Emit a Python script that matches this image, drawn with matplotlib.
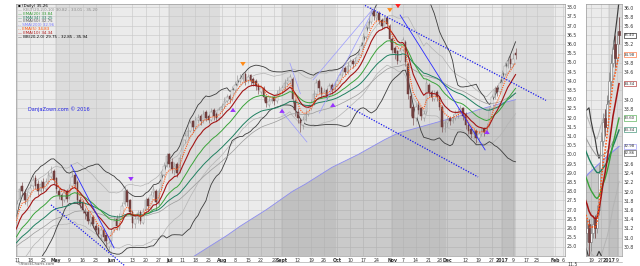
import numpy as np
import pandas as pd
import matplotlib
matplotlib.use("Agg")
import matplotlib.pyplot as plt

# ---------------- data ----------------
start_date = "2016-04-11"
holidays = ["2016-03-25", "2016-05-30", "2016-07-04", "2016-09-05", "2016-11-24",
            "2016-12-26", "2017-01-02", "2017-01-16", "2017-02-20"]

pre_closes = [24.4, 24.6, 24.3, 24.5, 24.8, 24.6, 24.9, 25.1, 24.8, 24.7, 25.0, 24.9,
              25.2, 25.0, 25.3, 25.1, 25.4, 25.6, 25.5, 25.9, 26.2, 26.0, 26.6]

opens = [27.0, 27.6, 28.3, 27.9, 27.4, 27.9, 28.3, 28.7, 28.4, 28.0,
         28.5, 28.1, 28.5, 28.8, 29.1, 28.7, 28.0, 27.8, 27.5, 28.0,
         27.7, 28.3, 28.9, 28.5, 27.5, 27.4, 26.9, 26.9, 26.3, 26.6,
         26.1, 26.0, 25.6, 25.9, 25.6, 25.0, 25.3, 25.9, 26.5, 26.0,
         26.7, 27.3, 28.0, 27.5, 26.9, 26.2, 26.5, 26.9, 26.3, 27.0,
         27.6, 27.1, 27.9, 28.0, 27.3, 28.1, 28.9, 29.4, 30.0, 29.6,
         29.1, 29.5, 29.1, 29.9, 30.8, 31.0, 31.3, 31.8, 31.5, 31.9,
         32.1, 31.8, 32.3, 32.1, 31.9, 32.4, 32.2, 32.0, 32.4, 32.6,
         32.9, 33.2, 33.0, 33.5, 33.8, 34.0, 34.1, 34.4, 34.0, 34.3,
         34.1, 34.0, 33.8, 33.4, 33.6, 33.1, 32.7, 32.9, 33.1, 32.9,
         33.3, 33.5, 33.6, 33.9, 34.0, 34.1, 32.9, 32.3, 31.9, 31.6,
         31.9, 32.2, 32.5, 32.8, 33.3, 34.0, 33.6, 33.2, 33.5, 33.2,
         33.8, 33.5, 33.8, 34.0, 34.3, 34.7, 34.5, 34.8, 35.1, 34.9,
         35.1, 35.4, 35.9, 36.4, 36.9, 37.2, 37.8, 37.4, 37.7, 37.3,
         36.9, 37.4, 37.0, 36.3, 35.8, 35.6, 35.1, 35.7, 36.1, 34.9,
         33.2, 32.6, 32.0, 32.7, 32.5, 32.0, 32.3, 33.8, 33.4, 33.0,
         33.4, 33.1, 32.6, 31.4, 31.7, 32.0, 31.8, 32.0, 32.2, 32.3,
         32.5, 32.2, 31.6, 31.4, 31.1, 31.3, 30.9, 31.1, 31.4, 31.2,
         31.6, 32.5, 33.1, 33.6, 33.4, 34.0, 34.4, 34.8, 35.2, 34.9,
         35.5]
highs = [27.5, 28.3, 28.5, 28.1, 28.0, 28.4, 28.9, 28.9, 28.6, 28.6,
         28.7, 28.7, 29.1, 29.4, 29.2, 28.8, 28.2, 27.9, 28.1, 28.1,
         28.4, 29.2, 29.0, 28.6, 27.7, 27.5, 27.1, 27.0, 26.8, 26.7,
         26.3, 26.1, 26.1, 26.0, 25.7, 25.4, 26.0, 26.6, 26.7, 26.8,
         27.4, 28.3, 28.1, 27.6, 27.0, 26.7, 27.0, 27.0, 27.1, 27.7,
         27.7, 28.0, 28.4, 28.1, 28.2, 29.1, 29.6, 30.1, 30.1, 29.8,
         29.6, 29.6, 30.0, 31.0, 31.2, 31.5, 31.9, 31.9, 32.1, 32.2,
         32.2, 32.4, 32.4, 32.2, 32.5, 32.5, 32.3, 32.6, 32.8, 33.1,
         33.3, 33.3, 33.7, 34.0, 34.3, 34.4, 34.5, 34.5, 34.4, 34.4,
         34.2, 34.1, 33.9, 33.8, 33.7, 33.2, 33.1, 33.2, 33.2, 33.5,
         33.7, 33.8, 34.1, 34.2, 34.4, 34.2, 33.0, 32.5, 32.0, 32.1,
         32.4, 32.7, 33.0, 33.5, 34.1, 34.1, 33.7, 33.6, 33.6, 33.9,
         33.9, 34.0, 34.2, 34.5, 34.8, 34.8, 35.0, 35.2, 35.2, 35.3,
         35.6, 36.1, 36.6, 37.1, 37.5, 38.0, 37.9, 37.8, 37.8, 37.4,
         37.5, 37.5, 37.1, 36.4, 35.9, 35.7, 35.8, 36.4, 36.2, 35.0,
         33.3, 32.7, 32.8, 32.9, 32.6, 32.4, 34.1, 33.9, 33.5, 33.5,
         33.5, 33.2, 32.7, 31.9, 32.1, 32.1, 32.2, 32.4, 32.5, 32.7,
         32.6, 32.3, 31.7, 31.5, 31.4, 31.4, 31.3, 31.5, 31.5, 31.7,
         32.6, 33.3, 33.7, 33.8, 34.1, 34.6, 35.0, 35.3, 35.4, 35.5,
         35.8]
lows = [26.8, 27.5, 27.8, 27.3, 27.2, 27.7, 28.1, 28.1, 27.8, 27.9,
        28.0, 28.0, 28.4, 28.6, 28.4, 27.9, 27.6, 27.2, 27.4, 27.4,
        27.6, 28.2, 28.2, 27.3, 27.1, 26.8, 26.5, 26.2, 26.1, 26.0,
        25.7, 25.5, 25.4, 25.3, 25.0, 24.8, 25.1, 25.8, 25.9, 25.9,
        26.6, 27.2, 27.2, 26.7, 26.0, 26.0, 26.3, 26.2, 26.2, 26.9,
        27.0, 27.0, 27.7, 27.0, 27.2, 28.0, 28.8, 29.3, 29.3, 29.0,
        28.9, 28.8, 29.0, 29.8, 30.6, 30.9, 31.2, 31.3, 31.4, 31.7,
        31.6, 31.7, 31.8, 31.7, 31.8, 31.9, 31.8, 31.9, 32.2, 32.5,
        32.8, 32.8, 32.9, 33.4, 33.7, 33.9, 34.0, 33.8, 33.9, 33.8,
        33.7, 33.5, 33.3, 33.3, 32.9, 32.6, 32.6, 32.8, 32.7, 32.8,
        33.2, 33.3, 33.5, 33.8, 33.9, 32.8, 32.1, 31.7, 31.2, 31.4,
        31.8, 32.1, 32.4, 32.7, 33.2, 33.4, 33.1, 33.1, 33.0, 33.1,
        33.3, 33.4, 33.7, 33.9, 34.2, 34.3, 34.4, 34.7, 34.7, 34.8,
        35.0, 35.3, 35.8, 36.3, 36.8, 37.1, 37.3, 37.2, 37.1, 36.8,
        36.8, 36.9, 36.1, 35.5, 35.2, 34.9, 35.0, 35.6, 34.8, 33.0,
        32.1, 31.6, 31.8, 32.2, 31.9, 31.8, 32.2, 33.2, 32.9, 32.9,
        32.9, 32.4, 31.2, 31.2, 31.5, 31.6, 31.7, 31.9, 32.0, 32.2,
        31.9, 31.4, 31.1, 30.9, 30.9, 30.6, 30.7, 31.0, 31.0, 31.1,
        31.5, 32.4, 33.0, 33.2, 33.3, 33.9, 34.3, 34.7, 34.7, 34.8,
        35.2]
closes = [27.3, 28.1, 28.0, 27.5, 27.8, 28.2, 28.6, 28.3, 28.0, 28.4,
          28.2, 28.5, 28.9, 29.0, 28.6, 28.1, 27.8, 27.5, 27.9, 27.6,
          28.2, 28.8, 28.4, 27.5, 27.3, 27.0, 26.8, 26.4, 26.6, 26.2,
          25.9, 25.7, 25.9, 25.5, 25.3, 25.2, 25.8, 26.4, 26.1, 26.6,
          27.2, 28.0, 27.4, 26.9, 26.3, 26.5, 26.8, 26.4, 26.9, 27.5,
          27.2, 27.8, 28.1, 27.4, 28.0, 28.9, 29.4, 29.9, 29.5, 29.2,
          29.4, 29.0, 29.8, 30.8, 31.0, 31.3, 31.7, 31.5, 31.9, 32.0,
          31.8, 32.2, 32.0, 31.9, 32.3, 32.1, 32.0, 32.4, 32.6, 32.9,
          33.1, 33.0, 33.5, 33.8, 34.0, 34.1, 34.3, 34.0, 34.2, 34.0,
          33.9, 33.7, 33.5, 33.6, 33.1, 32.8, 32.9, 33.0, 32.9, 33.3,
          33.5, 33.6, 33.9, 34.0, 34.2, 33.0, 32.4, 32.0, 31.7, 31.9,
          32.2, 32.5, 32.8, 33.3, 33.9, 33.6, 33.3, 33.4, 33.2, 33.7,
          33.5, 33.8, 34.0, 34.3, 34.6, 34.5, 34.8, 35.0, 34.9, 35.1,
          35.4, 35.9, 36.4, 36.9, 37.2, 37.7, 37.5, 37.6, 37.3, 37.0,
          37.3, 37.1, 36.3, 35.7, 35.5, 35.1, 35.6, 36.2, 35.0, 33.3,
          32.5, 32.0, 32.6, 32.4, 32.1, 32.2, 33.9, 33.4, 33.1, 33.3,
          33.1, 32.6, 31.5, 31.7, 31.9, 31.8, 32.0, 32.2, 32.3, 32.5,
          32.1, 31.6, 31.3, 31.1, 31.2, 30.9, 31.1, 31.3, 31.2, 31.5,
          32.4, 33.1, 33.5, 33.4, 33.9, 34.4, 34.8, 35.1, 34.9, 35.2,
          35.4]

area_idx = [60, 65, 70, 75, 80, 85, 90, 95, 100, 105, 110, 115, 120, 125, 130,
            135, 140, 145, 150, 155, 160, 165, 170, 175, 180, 185, 190]
area_vals = [23.8, 24.25, 24.7, 25.15, 25.6, 26.1, 26.55, 27.0, 27.5, 28.0, 28.4,
             28.85, 29.3, 29.65, 30.0, 30.4, 30.8, 31.15, 31.35, 31.55, 31.75,
             31.95, 32.15, 32.4, 32.6, 32.8, 32.98]

# hand-drawn trendlines: (x0 idx, y0, x1 idx, y1)
trend_solid = [(20.6, 29.43, 37.0, 24.92), (146.0, 37.58, 178.4, 30.25)]
trend_dotted = [(12.97, 27.26, 41.2, 23.94), (132.6, 38.10, 201.6, 32.94),
                (125.8, 32.64, 175.7, 28.78)]
trend_light = [(112.8, 34.05, 135.3, 37.85), (115.2, 32.25, 136.2, 37.96),
               (101.0, 32.32, 110.5, 30.68), (104.0, 34.97, 108.0, 33.30)]

# signal arrows: (idx, tail price, tip price, colour)
arrows = [(43.4, 28.78, 28.40, "#9933ff"), (82.3, 32.31, 32.69, "#9933ff"),
          (86.1, 35.03, 34.65, "#ff8c1a"), (101.0, 32.26, 32.64, "#9933ff"),
          (120.4, 32.58, 32.96, "#9933ff"), (142.1, 37.96, 37.58, "#ff8c1a"),
          (145.2, 38.18, 37.80, "#ff2020"), (179.1, 31.11, 31.49, "#9933ff")]

tick_dates = ["2016-04-11", "2016-04-18", "2016-04-25", "2016-05-02", "2016-05-09",
              "2016-05-16", "2016-05-23", "2016-06-01", "2016-06-13", "2016-06-20",
              "2016-06-27", "2016-07-01", "2016-07-11", "2016-07-18", "2016-07-25",
              "2016-08-01", "2016-08-08", "2016-08-15", "2016-08-22", "2016-08-29",
              "2016-09-01", "2016-09-12", "2016-09-19", "2016-09-26", "2016-10-03",
              "2016-10-10", "2016-10-17", "2016-10-24", "2016-11-01", "2016-11-07",
              "2016-11-14", "2016-11-21", "2016-11-28", "2016-12-01", "2016-12-12",
              "2016-12-19", "2016-12-27", "2017-01-03", "2017-01-09", "2017-01-17",
              "2017-01-23", "2017-02-01", "2017-02-06"]
tick_labels = ["11", "18", "25", "May", "9", "16", "23", "Jun", "13", "20", "27", "Jul",
               "11", "18", "25", "Aug", "8", "15", "22", "29", "Sept", "12", "19", "26",
               "Oct", "10", "17", "24", "Nov", "7", "14", "21", "28", "Dec", "12", "19",
               "27", "2017", "9", "17", "23", "Feb", "6"]
month_starts = ["2016-05-02", "2016-06-01", "2016-07-01", "2016-08-01", "2016-09-01",
                "2016-10-03", "2016-11-01", "2016-12-01", "2017-01-03", "2017-02-01"]
inset_tick_dates = ["2016-12-19", "2016-12-27", "2017-01-03", "2017-01-09"]
inset_tick_labels = ["19", "27", "2017", "9"]

legend_lines = [("\u25aa (Daily) 35.26", "#000000"),
                ("\u2014 KELT(20,2.0,10) 30.82 - 33.01 - 35.20", "#8a8a8a"),
                ("\u2014 EMA(20) 33.84", "#2e9b2e"),
                ("\u2014 EMA(34) 33.25", "#1e7d5a"),
                ("\u2014 EMA(50) 32.75", "#555555"),
                ("-- SMA(200) 32.96", "#7b7bff"),
                ("-- EMA(5) 34.83", "#ff4d00"),
                ("\u2014 EMA(10) 34.34", "#b01515"),
                ("\u2014 BB(20,2.0) 29.75 - 32.85 - 35.94", "#000000")]

# ---------------- calendar ----------------
cbd = pd.offsets.CustomBusinessDay(holidays=holidays)
cal = pd.date_range("2016-02-01", "2017-03-31", freq=cbd)
pos0 = cal.get_loc(pd.Timestamp(start_date))


def xpos(d):
    return cal.get_loc(pd.Timestamp(d)) - pos0


# ---------------- indicators ----------------
n_pre = len(pre_closes)
allc = pd.Series(pre_closes + closes, dtype=float)
x_all = np.arange(-n_pre, len(closes))


def ema(n):
    return allc.ewm(span=n, adjust=False).mean().values


ema5, ema10, ema20, ema34, ema50 = ema(5), ema(10), ema(20), ema(34), ema(50)
bb_mid = allc.rolling(20).mean().values
bb_sd = allc.rolling(20).std(ddof=0).values
bb_up, bb_lo = bb_mid + 2 * bb_sd, bb_mid - 2 * bb_sd

h = np.array(highs); l = np.array(lows); c = np.array(closes); o = np.array(opens)
prev_c = np.concatenate([[pre_closes[-1]], c[:-1]])
tr = np.maximum.reduce([h - l, np.abs(h - prev_c), np.abs(l - prev_c)])
atr = pd.Series(tr).ewm(alpha=1 / 10, adjust=False).mean().values
x_main = np.arange(len(closes))
kc_mid = ema20[n_pre:]
kc_up, kc_lo = kc_mid + 2 * atr, kc_mid - 2 * atr

# ---------------- figure ----------------
W, H = 640, 266
fig = plt.figure(figsize=(W / 100, H / 100), dpi=100)
fig.patch.set_facecolor("white")


def rect(x0, y0, x1, y1):
    return [x0 / W, 1 - y1 / H, (x1 - x0) / W, (y1 - y0) / H]


LIGHT, DARK = "#ebebeb", "#dcdcdc"
FS = 3.3


def draw(ax, cw, lw_scale=1.0):
    bounds = [-50] + [xpos(d) - 0.5 for d in month_starts] + [400]
    for k in range(len(bounds) - 1):
        ax.axvspan(bounds[k], bounds[k + 1], color=DARK if k % 2 else LIGHT,
                   zorder=0, lw=0)
    ax.grid(True, color="#c6c6c6", lw=0.4)
    ax.set_axisbelow(True)
    ax.fill_between(area_idx, area_vals, 0, color="#8e8e8e", alpha=0.35, lw=0, zorder=1)
    ax.plot(area_idx, area_vals, color="#8c8cf0", lw=0.6 * lw_scale, zorder=1.5)
    ax.plot(x_main, kc_up, color="#b4b4b4", lw=0.5 * lw_scale, zorder=1.6)
    ax.plot(x_main, kc_lo, color="#b4b4b4", lw=0.5 * lw_scale, zorder=1.6)
    ax.plot(x_all, bb_up, color="#3c3c3c", lw=0.6 * lw_scale, zorder=1.7)
    ax.plot(x_all, bb_lo, color="#3c3c3c", lw=0.6 * lw_scale, zorder=1.7)
    up = c >= o
    body_lo = np.minimum(o, c)
    body_h = np.maximum(np.abs(c - o), 0.04)
    ax.vlines(x_main[up], l[up], h[up], color="#8c8c8c", lw=0.4 * lw_scale, zorder=2)
    ax.vlines(x_main[~up], l[~up], h[~up], color="#6e3c3c", lw=0.4 * lw_scale, zorder=2)
    ax.bar(x_main[up], body_h[up], bottom=body_lo[up], width=cw, color="#f5f5f5",
           edgecolor="#8c8c8c", lw=0.35 * lw_scale, zorder=2.1)
    ax.bar(x_main[~up], body_h[~up], bottom=body_lo[~up], width=cw, color="#73403f",
           edgecolor="#6e3c3c", lw=0.35 * lw_scale, zorder=2.1)
    ax.plot(x_all, ema50, color="#9a9a9a", lw=0.5 * lw_scale, zorder=3)
    ax.plot(x_all, ema34, color="#1f8060", lw=0.7 * lw_scale, zorder=3)
    ax.plot(x_all, ema20, color="#3aa33a", lw=0.7 * lw_scale, zorder=3)
    ax.plot(x_all, ema10, color="#a31515", lw=0.8 * lw_scale, zorder=3.1)
    ax.plot(x_all, ema5, color="#ff5a1a", lw=0.8 * lw_scale, ls=(0, (1, 1)), zorder=3.2)
    for s in ax.spines.values():
        s.set_color("#9a9a9a")
        s.set_linewidth(0.5)
    ax.tick_params(length=0, labelsize=FS, colors="#333333", pad=1.2)
    ax.yaxis.tick_right()


# ---- main panel
ax = fig.add_axes(rect(16, 4, 565, 256))
draw(ax, cw=0.6)
px_per_day = 2.624
ax.set_xlim(-1 / px_per_day, (565 - 17) / px_per_day)
ax.set_ylim(38 - (256 - 7.3) / 18.4, 38 + (7.3 - 4) / 18.4)
yt = np.arange(25.0, 38.01, 0.5)
ax.set_yticks(yt)
ax.set_yticklabels([f"{v:.1f}" for v in yt])
for lab in ax.get_yticklabels():
    lab.set_horizontalalignment("left")
ax.set_xticks([xpos(d) for d in tick_dates])
ax.set_xticklabels(tick_labels)
for lab in ax.get_xticklabels():
    if not lab.get_text().isdigit() or lab.get_text() == "2017":
        lab.set_fontweight("bold")

for (x0, y0, x1, y1) in trend_solid:
    ax.plot([x0, x1], [y0, y1], color="#2a2aff", lw=0.6, zorder=4, clip_on=False)
for (x0, y0, x1, y1) in trend_dotted:
    ax.plot([x0, x1], [y0, y1], color="#1a1aee", lw=0.9, ls=(0, (1, 1.2)), zorder=4,
            clip_on=False)
for (x0, y0, x1, y1) in trend_light:
    ax.plot([x0, x1], [y0, y1], color="#9a9aff", lw=0.5, zorder=4)
for (xi, yt0, yt1, col) in arrows:
    ax.annotate("", xy=(xi, yt1), xytext=(xi, yt0),
                arrowprops=dict(arrowstyle="simple,head_length=0.6,head_width=0.8,tail_width=0.4",
                                color=col, lw=0, mutation_scale=5), zorder=5)
ax.text(4.2, 32.47, "DanjaZown.com \u00a9 2016", color="#2323e6", fontsize=3.6,
        va="center", ha="left", zorder=5)

# ---- inset panel (last weeks enlarged)
axi = fig.add_axes(rect(586, 4, 622, 256))
draw(axi, cw=0.75, lw_scale=1.4)
axi.set_xlim(173.5, 191.5)
axi.set_ylim(30.8 - (256 - 246.7) / 46, 30.8 + (246.7 - 4) / 46)
axi.set_xticks([xpos(d) for d in inset_tick_dates])
axi.set_xticklabels(inset_tick_labels)
for lab in axi.get_xticklabels():
    if lab.get_text() == "2017":
        lab.set_fontweight("bold")

# value tags on inset scale, spread so they do not collide
tags = [(closes[-1], "#000000"), (ema5[-1], "#ff5a1a"), (ema10[-1], "#a31515"),
        (ema20[-1], "#3aa33a"), (ema34[-1], "#1f8060"), (area_vals[-1], "#8c8cf0"),
        (bb_mid[-1], "#3c3c3c")]
tags = sorted(tags, key=lambda t: -t[0])
gap = 6.5 / 46
placed = []
for v, col in tags:
    p = v if not placed else min(v, placed[-1] - gap)
    placed.append(p)
    axi.annotate(f"{v:.2f}", xy=(1.0, p), xycoords=("axes fraction", "data"),
                 xytext=(1.5, 0), textcoords="offset points", fontsize=2.8,
                 va="center", ha="left", color="#333333",
                 bbox=dict(boxstyle="square,pad=0.15", fc="white", ec=col, lw=0.4),
                 annotation_clip=False, zorder=6)

# inset price scale: keep labels that are not covered by a value tag
yti = [v for v in np.arange(30.8, 36.01, 0.2)
       if all(abs(v - p) > 0.15 for p in placed)]
axi.set_yticks(np.arange(30.8, 36.01, 0.2), minor=False)
axi.set_yticklabels([f"{v:.1f}" if any(abs(v - q) < 1e-6 for q in yti) else ""
                     for v in np.arange(30.8, 36.01, 0.2)])

# ---- legend text
ys = [6, 10, 14, 18, 21.5, 25.5, 29.5, 33, 36.5]
for (txt, col), yy in zip(legend_lines, ys):
    fig.text(18 / W, 1 - yy / H, txt, color=col, fontsize=2.9, va="center", ha="left")

# ---- footer
fig.text(17 / W, 1 - 264 / H, "\u00a9StockCharts.com", fontsize=2.8, color="#555555",
         va="center")
fig.text(567 / W, 1 - 264 / H, "11.5", fontsize=FS, color="#333333", va="center")
fig.add_artist(plt.Line2D([16 / W, 622 / W], [1 - 262 / H, 1 - 262 / H],
                          color="#9a9a9a", lw=0.4))

fig.savefig("out.png", dpi=100, facecolor="white")
